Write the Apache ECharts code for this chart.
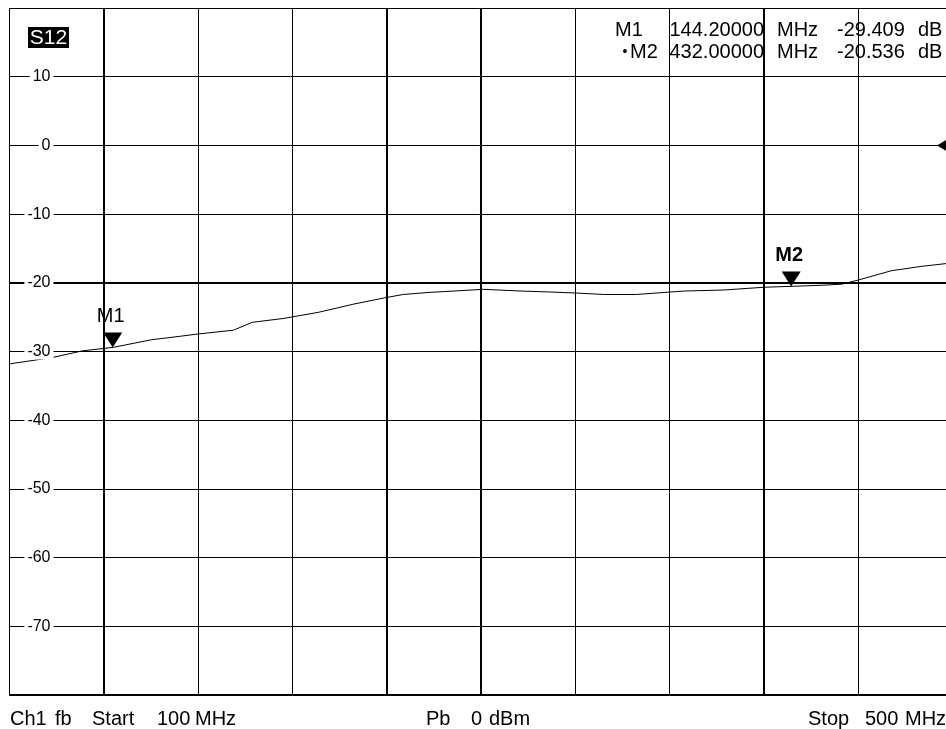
<!DOCTYPE html>
<html>
<head>
<meta charset="utf-8">
<script src="https://cdn.jsdelivr.net/npm/echarts@6/dist/echarts.min.js"></script>
<style>
html,body{margin:0;padding:0;background:#fff;}
#chart{width:946px;height:729px;}
</style>
</head>
<body>
<div id="chart"></div>
<script>
// Trace: S12 magnitude (dB) vs frequency (MHz)
var freqMHz = [100, 110, 118.5, 131, 144, 160, 172, 180, 195, 203, 216, 231, 246, 259, 267, 278, 291, 301, 317, 330, 341, 352, 366, 386, 403, 420, 433, 445, 453, 460, 474, 487, 500];
var s12dB   = [-31.8, -31.3, -30.85, -29.9, -29.4, -28.3, -27.8, -27.45, -26.9, -25.75, -25.2, -24.3, -23.1, -22.2, -21.7, -21.4, -21.15, -20.95, -21.2, -21.35, -21.5, -21.7, -21.7, -21.2, -21.05, -20.65, -20.5, -20.35, -20.2, -19.6, -18.25, -17.6, -17.1];

// Markers
var markerNames = ['M1', 'M2'];
var markerFreq  = [144.2, 432.0];
var markerDB    = [-29.409, -20.536];

// Axis scales
var xMin = 100, xMax = 500, xStep = 40;
var yMin = -80, yMax = 20, yStep = 10;
var refLevel = 0;          // reference position marker
var boldX = [140, 260, 300, 420];
var boldY = [-20, -80];

// Annotation texts
var traceName = 'S12';
var footerLeft = ['Ch1', 'fb', 'Start', '100', 'MHz'];
var footerMid = ['Pb', '0', 'dBm'];
var footerRight = ['Stop', '500', 'MHz'];

var FONT = '"Liberation Sans", Arial, sans-serif';
var chart = echarts.init(document.getElementById('chart'));

var lineData = freqMHz.map(function (f, i) { return [f, s12dB[i]]; });

var markLineData = boldX.map(function (v) { return { xAxis: v }; })
  .concat(boldY.map(function (v) { return { yAxis: v }; }));

var markPointData = markerNames.map(function (n, i) {
  return {
    name: n,
    coord: [markerFreq[i], markerDB[i]],
    symbol: 'path://M0,0L20,0L10,16Z',
    symbolSize: [19, 15],
    symbolOffset: [-1, -7.5],
    itemStyle: { color: '#000' },
    label: {
      show: true, formatter: n, position: 'top', distance: 6, offset: [-2, 0],
      color: '#000', fontSize: 20, fontFamily: FONT,
      fontWeight: i === 1 ? 'bold' : 'normal'
    }
  };
});
markPointData.push({
  name: 'ref',
  coord: [xMax, refLevel],
  symbol: 'path://M0,6L10,0L10,12Z',
  symbolSize: [10, 12],
  symbolOffset: [-10.5, 0],
  itemStyle: { color: '#000' },
  label: { show: false }
});

function fmtNum(v, d) { return v.toFixed(d); }

var graphics = [
  { type: 'rect', shape: { x: 28, y: 27, width: 41, height: 21 }, style: { fill: '#000' }, z: 20 },
  { type: 'text', x: 48.5, y: 38, z: 21, style: { text: traceName, fill: '#fff', font: '21px ' + FONT, align: 'center', verticalAlign: 'middle' } }
];
// marker readout
var rowY = [30, 52];
markerNames.forEach(function (n, i) {
  var y = rowY[i];
  graphics.push({ type: 'text', x: i === 0 ? 615 : 630, y: y, z: 20, style: { text: n, fill: '#000', font: '20px ' + FONT, align: 'left', verticalAlign: 'middle' } });
  if (i === 1) {
    graphics.push({ type: 'text', x: 625, y: y, z: 20, style: { text: '\u2022', fill: '#000', font: '14px ' + FONT, align: 'center', verticalAlign: 'middle' } });
  }
  graphics.push({ type: 'text', x: 764, y: y, z: 20, style: { text: fmtNum(markerFreq[i], 5), fill: '#000', font: '20px ' + FONT, align: 'right', verticalAlign: 'middle' } });
  graphics.push({ type: 'text', x: 777, y: y, z: 20, style: { text: 'MHz', fill: '#000', font: '20px ' + FONT, align: 'left', verticalAlign: 'middle' } });
  graphics.push({ type: 'text', x: 837, y: y, z: 20, style: { text: fmtNum(markerDB[i], 3), fill: '#000', font: '20px ' + FONT, align: 'left', verticalAlign: 'middle' } });
  graphics.push({ type: 'text', x: 918, y: y, z: 20, style: { text: 'dB', fill: '#000', font: '20px ' + FONT, align: 'left', verticalAlign: 'middle' } });
});
// footer
var footY = 719;
var footPosL = [10, 55, 92, 157, 195];
var footPosM = [426, 471, 489];
var footPosR = [808, 865, 905];
function addFooter(arr, pos) {
  arr.forEach(function (t, i) {
    graphics.push({ type: 'text', x: pos[i], y: footY, z: 20, style: { text: t, fill: '#000', font: '20px ' + FONT, align: 'left', verticalAlign: 'middle' } });
  });
}
addFooter(footerLeft, footPosL);
addFooter(footerMid, footPosM);
addFooter(footerRight, footPosR);

chart.setOption({
  animation: false,
  backgroundColor: '#fff',
  grid: { left: 9.5, top: 8, width: 943, height: 687, containLabel: false, outerBoundsMode: 'none' },
  xAxis: {
    type: 'value', min: xMin, max: xMax, interval: xStep,
    axisLine: { show: false }, axisTick: { show: false }, axisLabel: { show: false },
    splitLine: { show: true, lineStyle: { color: '#000', width: 1 } }
  },
  yAxis: {
    type: 'value', min: yMin, max: yMax, interval: yStep, z: 10,
    axisLine: { show: false }, axisTick: { show: false },
    splitLine: { show: true, lineStyle: { color: '#000', width: 1 } },
    axisLabel: {
      show: true, inside: true, margin: 44, align: 'right',
      showMinLabel: false, showMaxLabel: false,
      color: '#000', fontSize: 16, fontFamily: FONT,
      backgroundColor: '#fff', padding: [0, 3, 0, 3]
    }
  },
  graphic: { elements: graphics },
  series: [{
    type: 'line',
    data: lineData,
    showSymbol: false,
    symbol: 'none',
    smooth: false,
    z: 3,
    lineStyle: { color: '#000', width: 1 },
    markLine: {
      silent: true, symbol: 'none', animation: false,
      label: { show: false },
      lineStyle: { color: '#000', width: 2, type: 'solid' },
      data: markLineData
    },
    markPoint: {
      silent: true, animation: false,
      data: markPointData
    }
  }]
});
</script>
</body>
</html>
